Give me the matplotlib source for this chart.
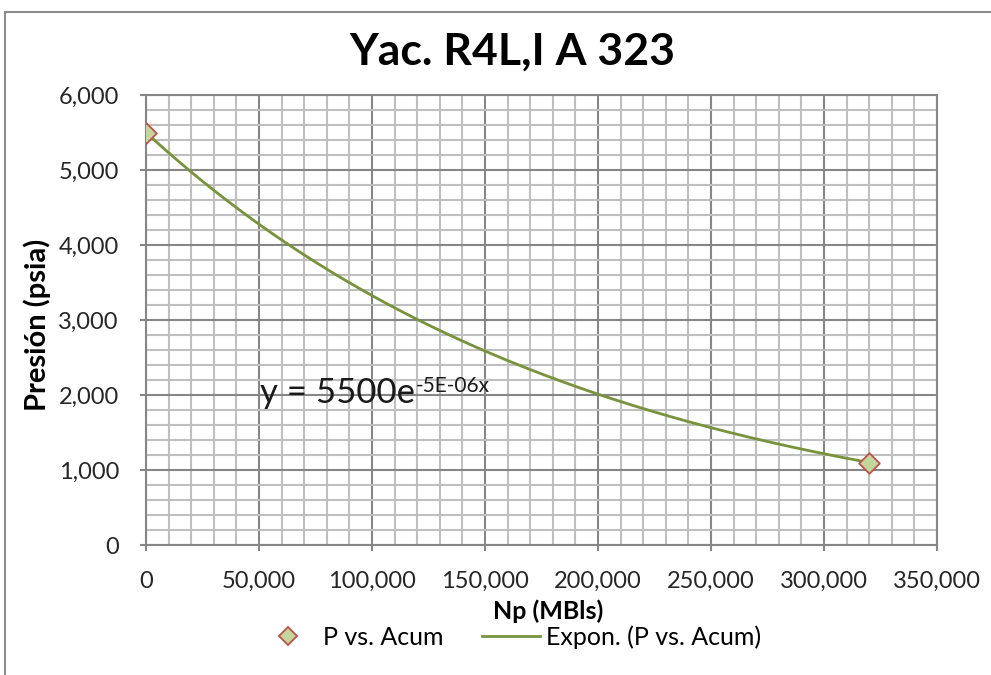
import numpy as np
import matplotlib.pyplot as plt
from matplotlib.ticker import MultipleLocator, FuncFormatter
from matplotlib.patches import Rectangle
from matplotlib.lines import Line2D

# datos de presion vs acumulado
np_acum = [0, 320000]
presion = [5500, 1100]

# ajuste exponencial (linea de tendencia)
b, ln_a = np.polyfit(np_acum, np.log(presion), 1)
a = np.exp(ln_a)
x_fit = np.linspace(min(np_acum), max(np_acum), 200)
y_fit = a * np.exp(b * x_fit)

plt.rcParams['font.family'] = ['Lato', 'DejaVu Sans']

W, H = 991, 675
fig = plt.figure(figsize=(W / 100, H / 100), dpi=100)
ax = fig.add_axes([146 / W, 130 / H, 791 / W, 450 / H])

# marco del grafico
fig.patches.append(Rectangle((5 / W, -0.1), 1.2, (H - 12) / H + 0.1,
                             transform=fig.transFigure, fill=False,
                             edgecolor='#8c8c8c', linewidth=1.5))

ax.plot(x_fit, y_fit, color='#77933c', linewidth=2, zorder=3)
ax.scatter(np_acum, presion, marker='D', s=110, facecolor='#c3d69b',
           edgecolor='#c0504d', linewidth=1.3, zorder=4)

ax.set_xlim(0, 350000)
ax.set_ylim(0, 6000)
ax.xaxis.set_major_locator(MultipleLocator(50000))
ax.xaxis.set_minor_locator(MultipleLocator(10000))
ax.yaxis.set_major_locator(MultipleLocator(1000))
ax.yaxis.set_minor_locator(MultipleLocator(200))
fmt = FuncFormatter(lambda v, p: f'{v:,.0f}')
ax.xaxis.set_major_formatter(fmt)
ax.yaxis.set_major_formatter(fmt)

ax.grid(which='major', color='#868686', linewidth=1.5)
ax.grid(which='minor', color='#bfbfbf', linewidth=1.5)
ax.set_axisbelow(True)
for s in ax.spines.values():
    s.set_color('#868686')
    s.set_linewidth(1.5)
ax.tick_params(which='major', direction='out', length=4.5, color='#868686', width=1.5,
               labelsize=17, colors='#262626')
ax.tick_params(which='minor', length=0)
ax.tick_params(axis='x', pad=14)
ax.tick_params(axis='y', pad=15)

fig.text(512 / W, 1 - 65 / H, 'Yac. R4L,I A 323', fontsize=32,
         fontweight='bold', ha='center', va='baseline')
ax.set_xlabel('Np (MBls)', fontsize=18, fontweight='bold')
ax.xaxis.set_label_coords((548 - 146) / 791, -0.122)
ax.set_ylabel('Presión (psia)', fontsize=21, fontweight='bold')
ax.yaxis.set_label_coords(-0.12, 0.49)

# ecuacion de la tendencia
eq = ax.text(50400, 1890, 'y = 5500e', fontsize=25, color='#1a1a1a', va='baseline')
fig.canvas.draw()
bb = eq.get_window_extent()
ax.annotate('-5E-06x', xy=(bb.x1, 0), xycoords='figure pixels',
            xytext=(1, H - 392), textcoords='offset pixels',
            fontsize=15, color='#1a1a1a', va='baseline', ha='left')

# leyenda
handles = [
    Line2D([], [], linestyle='none', marker='D', markersize=9, markerfacecolor='#c3d69b',
           markeredgecolor='#c0504d', markeredgewidth=1.3),
    Line2D([], [], color='#77933c', linewidth=2),
]
fig.legend(handles, ['P vs. Acum', 'Expon. (P vs. Acum)'], loc='center',
           bbox_to_anchor=(510 / W, 1 - 637 / H), ncol=2, frameon=False, fontsize=18,
           handlelength=2.3, handletextpad=0.25, columnspacing=1.55)

fig.savefig('out.png', dpi=100)
